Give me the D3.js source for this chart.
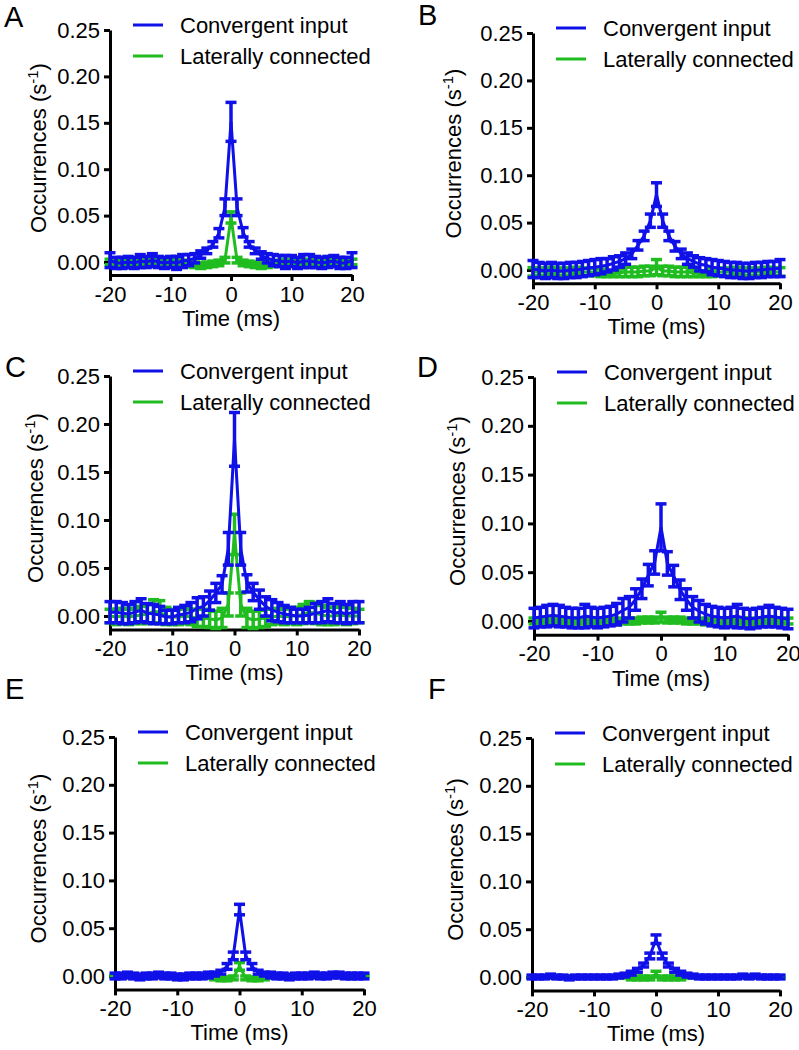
<!DOCTYPE html>
<html>
<head>
<meta charset="utf-8">
<script src="https://cdn.jsdelivr.net/npm/d3@7/dist/d3.min.js"></script>
<style>
  body { margin: 0; background: #fff; }
  svg { display: block; font-family: Arial, "Liberation Sans", sans-serif; }
</style>
</head>
<body>
<svg id="fig" width="799" height="1050"></svg>
<script>
// time lags (ms)
const times = [-20,-19,-18,-17,-16,-15,-14,-13,-12,-11,-10,-9,-8,-7,-6,-5,-4,-3,-2,-1,0,
               1,2,3,4,5,6,7,8,9,10,11,12,13,14,15,16,17,18,19,20];
const xTicks = [-20, -10, 0, 10, 20];
const yTicks = [0, 0.05, 0.10, 0.15, 0.20, 0.25];
const seriesNames = ["Convergent input", "Laterally connected"];
const panelLetters = ["A", "B", "C", "D", "E", "F"];
const yTitles = ["Occurrences (s", "Occurrences (s", "Occurrences (s", "Occurrences (s", "Occurrences (s", "Occurences (s"];

// A
const aBlueMean = [0.002,-0.001,-0.001,0.000,-0.001,0.001,0.000,0.002,0.000,-0.001,0.000,-0.001,0.001,0.002,0.004,0.008,0.012,0.019,0.031,0.059,0.151,
                   0.059,0.032,0.019,0.012,0.007,0.004,0.002,0.001,0.000,0.001,-0.001,0.001,0.001,0.000,-0.001,0.000,0.001,-0.001,-0.001,0.002];
const aBlueSem  = [0.008,0.006,0.006,0.006,0.006,0.007,0.006,0.007,0.006,0.006,0.006,0.007,0.007,0.006,0.005,0.004,0.003,0.003,0.005,0.009,0.021,
                   0.009,0.005,0.003,0.003,0.004,0.005,0.006,0.006,0.007,0.006,0.006,0.007,0.007,0.006,0.006,0.006,0.006,0.006,0.006,0.008];
const aGreenMean = [0.000,0.000,-0.001,0.000,0.000,0.001,0.000,0.000,-0.001,0.000,0.000,0.000,-0.001,-0.002,-0.003,-0.004,-0.003,-0.002,-0.001,0.002,0.048,
                    0.002,-0.001,-0.002,-0.003,-0.004,-0.003,-0.002,-0.001,0.000,0.000,0.000,-0.001,0.000,0.000,0.001,0.000,0.000,-0.001,0.000,0.000];
const aGreenSem  = [0.003,0.003,0.003,0.003,0.003,0.003,0.003,0.003,0.003,0.003,0.003,0.003,0.003,0.003,0.003,0.003,0.003,0.003,0.003,0.003,0.006,
                    0.003,0.003,0.003,0.003,0.003,0.003,0.003,0.003,0.003,0.003,0.003,0.003,0.003,0.003,0.003,0.003,0.003,0.003,0.003,0.003];
// B
const bBlueMean = [0.001,0.000,-0.001,0.000,-0.001,-0.001,0.000,0.000,0.001,0.002,0.003,0.004,0.005,0.007,0.009,0.012,0.017,0.026,0.036,0.052,0.0795,
                   0.052,0.036,0.025,0.017,0.012,0.009,0.006,0.005,0.003,0.002,0.001,0.000,0.000,-0.001,-0.001,0.000,0.000,0.001,0.001,0.002];
const bBlueSem  = [0.009,0.008,0.008,0.008,0.008,0.008,0.008,0.008,0.008,0.008,0.008,0.008,0.007,0.007,0.006,0.006,0.005,0.005,0.005,0.007,0.0125,
                   0.007,0.005,0.005,0.005,0.006,0.006,0.007,0.007,0.008,0.008,0.008,0.008,0.008,0.008,0.008,0.008,0.008,0.008,0.008,0.009];
const bGreenMean = [-0.002,-0.002,-0.002,-0.001,-0.002,-0.002,-0.002,-0.001,-0.002,-0.002,-0.002,-0.003,-0.004,-0.004,-0.003,-0.002,-0.002,-0.002,-0.001,-0.001,0.003,
                    -0.001,-0.001,-0.002,-0.002,-0.002,-0.003,-0.004,-0.004,-0.003,-0.002,-0.002,-0.002,-0.001,-0.002,-0.002,-0.002,-0.002,-0.001,-0.002,-0.002];
const bGreenSem  = [0.0045,0.004,0.004,0.004,0.004,0.004,0.004,0.004,0.004,0.004,0.004,0.004,0.003,0.003,0.004,0.005,0.005,0.005,0.005,0.005,0.008,
                    0.005,0.005,0.005,0.005,0.005,0.004,0.003,0.003,0.004,0.004,0.004,0.004,0.004,0.004,0.004,0.004,0.004,0.004,0.004,0.0045];
// C
const cBlueMean = [0.004,0.004,0.003,0.002,0.004,0.006,0.003,0.002,0.001,-0.001,-0.001,0.001,0.002,0.004,0.008,0.010,0.016,0.024,0.033,0.070,0.184,
                   0.070,0.034,0.025,0.017,0.010,0.006,0.004,0.002,0.001,0.000,0.000,0.001,0.003,0.004,0.006,0.003,0.004,0.002,0.004,0.004];
const cBlueSem  = [0.011,0.011,0.011,0.010,0.011,0.012,0.010,0.010,0.009,0.007,0.007,0.008,0.009,0.010,0.011,0.010,0.010,0.010,0.009,0.017,0.028,
                   0.017,0.009,0.009,0.010,0.010,0.011,0.010,0.009,0.008,0.007,0.007,0.008,0.010,0.011,0.012,0.010,0.011,0.010,0.011,0.011];
const cGreenMean = [0.000,-0.001,0.000,-0.001,0.000,0.001,0.002,0.005,0.004,0.000,-0.001,-0.001,0.000,-0.001,-0.002,-0.002,-0.003,-0.004,-0.002,0.012,0.085,
                    0.012,-0.002,-0.004,-0.003,-0.002,-0.001,0.000,-0.001,0.000,0.000,0.002,0.004,0.003,0.001,0.000,0.000,0.001,0.000,0.000,0.000];
const cGreenSem  = [0.007,0.008,0.008,0.008,0.008,0.009,0.010,0.012,0.012,0.009,0.008,0.008,0.008,0.008,0.009,0.009,0.009,0.009,0.010,0.012,0.021,
                    0.012,0.010,0.009,0.009,0.009,0.008,0.008,0.008,0.008,0.009,0.010,0.011,0.011,0.010,0.009,0.009,0.009,0.009,0.008,0.007];
// D
const dBlueMean = [0.003,0.004,0.005,0.006,0.005,0.004,0.003,0.003,0.005,0.004,0.003,0.004,0.005,0.007,0.011,0.014,0.022,0.033,0.047,0.060,0.096,
                   0.059,0.046,0.032,0.022,0.014,0.010,0.007,0.005,0.004,0.003,0.004,0.005,0.003,0.002,0.003,0.004,0.005,0.004,0.003,0.002];
const dBlueSem  = [0.010,0.010,0.011,0.011,0.011,0.010,0.010,0.010,0.012,0.010,0.010,0.010,0.010,0.011,0.012,0.011,0.011,0.010,0.011,0.012,0.024,
                   0.012,0.011,0.010,0.011,0.011,0.011,0.010,0.010,0.010,0.010,0.010,0.012,0.010,0.010,0.010,0.010,0.011,0.010,0.010,0.010];
const dGreenMean = [0.000,0.000,-0.001,0.000,0.000,-0.001,0.000,0.000,0.000,-0.001,0.000,0.000,0.000,-0.001,0.000,0.000,0.000,0.001,0.001,0.001,0.004,
                    0.001,0.001,0.001,0.000,0.000,0.000,-0.001,0.000,0.000,0.000,-0.001,0.000,0.000,0.000,-0.001,0.000,0.000,0.000,0.000,0.000];
const dGreenSem  = [0.003,0.003,0.003,0.003,0.003,0.003,0.003,0.003,0.003,0.003,0.003,0.003,0.003,0.003,0.003,0.003,0.003,0.003,0.003,0.003,0.005,
                    0.003,0.003,0.003,0.003,0.003,0.003,0.003,0.003,0.003,0.003,0.003,0.003,0.003,0.003,0.003,0.003,0.003,0.003,0.003,0.003];
// E
const eBlueMean = [0.000,0.000,0.001,0.000,-0.001,0.000,0.000,0.001,0.000,0.000,-0.001,-0.001,0.000,0.000,0.000,0.001,0.002,0.004,0.010,0.021,0.0695,
                   0.021,0.010,0.004,0.002,0.001,0.000,0.000,-0.001,0.000,0.000,0.000,0.001,0.000,0.000,0.001,0.001,0.000,0.000,0.000,0.000];
const eBlueSem  = [0.003,0.003,0.003,0.003,0.003,0.003,0.003,0.003,0.003,0.003,0.003,0.003,0.003,0.003,0.003,0.003,0.002,0.002,0.003,0.004,0.0055,
                   0.004,0.003,0.002,0.002,0.003,0.003,0.003,0.003,0.003,0.003,0.003,0.003,0.003,0.003,0.003,0.003,0.003,0.003,0.003,0.003];
const eGreenMean = [0.000,0.000,0.000,0.000,0.000,0.000,0.000,0.000,0.000,0.000,0.000,0.000,0.000,0.000,0.000,-0.001,-0.002,-0.003,-0.003,-0.002,0.010,
                    -0.002,-0.003,-0.003,-0.002,-0.001,0.000,0.000,0.000,0.000,0.000,0.000,0.000,0.000,0.000,0.000,0.000,0.000,0.000,0.000,0.000];
const eGreenSem  = [0.001,0.001,0.001,0.001,0.001,0.001,0.001,0.001,0.001,0.001,0.001,0.001,0.001,0.001,0.001,0.001,0.002,0.002,0.002,0.002,0.004,
                    0.002,0.002,0.002,0.002,0.001,0.001,0.001,0.001,0.001,0.001,0.001,0.001,0.001,0.001,0.001,0.001,0.001,0.001,0.001,0.001];
// F
const fBlueMean = [0.000,0.000,0.000,0.001,0.000,0.000,-0.001,0.000,0.000,0.000,0.000,0.000,0.000,0.000,0.001,0.002,0.004,0.007,0.0125,0.022,0.0395,
                   0.022,0.0125,0.007,0.004,0.002,0.001,0.000,0.000,0.000,0.000,0.000,0.000,0.000,0.001,0.000,0.001,0.000,0.000,0.000,0.000];
const fBlueSem  = [0.002,0.002,0.002,0.002,0.002,0.002,0.002,0.002,0.002,0.002,0.002,0.002,0.002,0.002,0.002,0.002,0.002,0.002,0.002,0.003,0.0045,
                   0.003,0.002,0.002,0.002,0.002,0.002,0.002,0.002,0.002,0.002,0.002,0.002,0.002,0.002,0.002,0.002,0.002,0.002,0.002,0.002];
const fGreenMean = [0.000,0.000,0.000,0.000,0.000,0.000,0.000,0.000,0.000,0.000,0.000,0.000,0.000,0.000,0.000,0.000,-0.001,-0.001,-0.001,-0.001,0.003,
                    -0.001,-0.001,-0.001,-0.001,0.000,0.000,0.000,0.000,0.000,0.000,0.000,0.000,0.000,0.000,0.000,0.000,0.000,0.000,0.000,0.000];
const fGreenSem  = [0.001,0.001,0.001,0.001,0.001,0.001,0.001,0.001,0.001,0.001,0.001,0.001,0.001,0.001,0.001,0.001,0.002,0.002,0.002,0.002,0.003,
                    0.002,0.002,0.002,0.002,0.001,0.001,0.001,0.001,0.001,0.001,0.001,0.001,0.001,0.001,0.001,0.001,0.001,0.001,0.001,0.001];

const blueData  = [[aBlueMean, aBlueSem], [bBlueMean, bBlueSem], [cBlueMean, cBlueSem],
                   [dBlueMean, dBlueSem], [eBlueMean, eBlueSem], [fBlueMean, fBlueSem]];
const greenData = [[aGreenMean, aGreenSem], [bGreenMean, bGreenSem], [cGreenMean, cGreenSem],
                   [dGreenMean, dGreenSem], [eGreenMean, eGreenSem], [fGreenMean, fGreenSem]];

// 各パネルの配置 (ピクセル)
const layout = [
  {left: 110, right: 352, top: 30,  zero: 262, letterX: 4,   letterY: 27,  titleX: 38},
  {left: 533, right: 780, top: 33,  zero: 270, letterX: 418, letterY: 25,  titleX: 453},
  {left: 110, right: 359, top: 376, zero: 616, letterX: 5,   letterY: 377, titleX: 35},
  {left: 534, right: 788, top: 377, zero: 621, letterX: 417, letterY: 377, titleX: 457},
  {left: 115, right: 364, top: 737, zero: 976, letterX: 5,   letterY: 699, titleX: 38},
  {left: 532, right: 780, top: 738, zero: 977, letterX: 428, letterY: 699, titleX: 455}
];

const colors = ["#1010e8", "#20bc20"];
const yMin = -0.014;
const fontSize = 22;
const svg = d3.select("#fig");
const hyphenFmt = d => String(d);  // "-20" (ハイフン)

layout.forEach((p, i) => {
  const g = svg.append("g");

  const x = d3.scaleLinear().domain([-20, 20]).range([p.left, p.right]);
  const y0 = d3.scaleLinear().domain([0, 0.25]).range([p.zero, p.top]);
  const y = d3.scaleLinear().domain([yMin, 0.25]).range([y0(yMin), p.top]);
  const bottom = y(yMin);

  // Y軸
  g.append("g")
    .attr("transform", `translate(${p.left},0)`)
    .call(d3.axisLeft(y).tickValues(yTicks).tickFormat(d3.format(".2f"))
      .tickSizeInner(6).tickSizeOuter(0).tickPadding(4))
    .call(a => a.selectAll("path, line").attr("stroke", "#000").attr("stroke-width", 3))
    .call(a => a.selectAll("text").attr("font-size", fontSize).attr("fill", "#000")
      .attr("font-family", "Arial, 'Liberation Sans', sans-serif"));

  // X軸
  g.append("g")
    .attr("transform", `translate(0,${bottom})`)
    .call(d3.axisBottom(x).tickValues(xTicks).tickFormat(hyphenFmt)
      .tickSizeInner(6).tickSizeOuter(0).tickPadding(5))
    .call(a => a.selectAll("path, line").attr("stroke", "#000").attr("stroke-width", 3))
    .call(a => a.selectAll("text").attr("font-size", fontSize).attr("fill", "#000")
      .attr("font-family", "Arial, 'Liberation Sans', sans-serif"));

  g.append("text")
    .attr("x", x(0)).attr("y", bottom + 51)
    .attr("text-anchor", "middle").attr("font-size", fontSize)
    .text("Time (ms)");

  // Y軸ラベル (上付き -1)
  const yt = g.append("text")
    .attr("transform", `translate(${p.titleX},${(y(0) + y(0.25)) / 2 + 2}) rotate(-90)`)
    .attr("text-anchor", "middle").attr("dy", "0.35em").attr("font-size", fontSize);
  yt.append("tspan").text(yTitles[i]);
  yt.append("tspan").attr("font-size", 15).attr("dy", -8).text("-1");
  yt.append("tspan").attr("dy", 8).text(")");

  // パネル文字
  g.append("text")
    .attr("x", p.letterX).attr("y", p.letterY)
    .attr("font-size", 29).text(panelLetters[i]);

  // データ (緑を先に、青を上に)
  [greenData[i], blueData[i]].forEach((s, k) => {
    const color = k === 0 ? colors[1] : colors[0];
    const pts = times.map((t, j) => ({t: t, m: s[0][j], e: s[1][j]}));
    const sg = g.append("g").attr("stroke", color).attr("stroke-width", 3.5).attr("fill", "none");

    sg.append("path")
      .datum(pts)
      .attr("stroke-width", 3)
      .attr("d", d3.line().x(d => x(d.t)).y(d => y(d.m)));

    const bars = sg.selectAll(".bar").data(pts).join("g").attr("class", "bar");
    bars.append("line")
      .attr("x1", d => x(d.t)).attr("x2", d => x(d.t))
      .attr("y1", d => y(d.m - d.e)).attr("y2", d => y(d.m + d.e));
    bars.append("line")
      .attr("x1", d => x(d.t) - 5.5).attr("x2", d => x(d.t) + 5.5)
      .attr("y1", d => y(d.m + d.e)).attr("y2", d => y(d.m + d.e));
    bars.append("line")
      .attr("x1", d => x(d.t) - 5.5).attr("x2", d => x(d.t) + 5.5)
      .attr("y1", d => y(d.m - d.e)).attr("y2", d => y(d.m - d.e));
  });

  // 凡例
  const leg = g.append("g");
  seriesNames.forEach((name, k) => {
    const ly = p.top - 5 + k * 31;
    leg.append("line")
      .attr("x1", p.left + 23).attr("x2", p.left + 53)
      .attr("y1", ly).attr("y2", ly)
      .attr("stroke", colors[k]).attr("stroke-width", 3);
    leg.append("text")
      .attr("x", p.left + 70).attr("y", ly).attr("dy", "0.35em")
      .attr("font-size", fontSize).text(name);
  });
});
</script>
</body>
</html>
